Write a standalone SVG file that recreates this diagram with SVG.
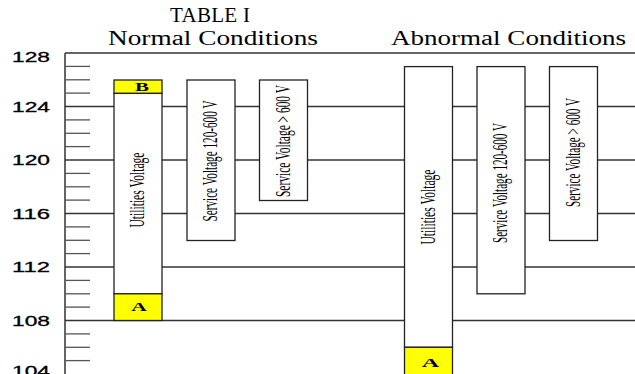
<svg xmlns="http://www.w3.org/2000/svg" width="635" height="374" viewBox="0 0 635 374">
<style>
.major{stroke:#333;stroke-width:1.3;fill:none}
.minor{stroke:#555;stroke-width:1.3;fill:none}
.axis{stroke:#111;stroke-width:1.3;fill:none}
.box{fill:#fff;stroke:#222;stroke-width:1.3}
.yel{fill:#ffff00;stroke:#222;stroke-width:1.3}
.lbl{font-family:"Liberation Serif","Times New Roman",serif;font-size:20px;fill:#000;text-anchor:middle}
.ab{font-family:"Liberation Serif","Times New Roman",serif;font-size:12px;font-weight:bold;fill:#000;text-anchor:middle}
.tick{font-family:"Liberation Sans",Arial,sans-serif;font-size:14.5px;fill:#000;stroke:#000;stroke-width:0.3}
.title{font-family:"Liberation Serif","Times New Roman",serif;fill:#000;text-anchor:middle}
</style>
<g id="titles">
<text class="title" x="210" y="22" font-size="21" textLength="80">TABLE I</text>
<text class="title" x="213" y="45" font-size="20" textLength="210" lengthAdjust="spacingAndGlyphs">Normal Conditions</text>
<text class="title" x="508.5" y="45" font-size="20" textLength="235" lengthAdjust="spacingAndGlyphs">Abnormal Conditions</text>
</g>
<g id="axis">
<line class="axis" x1="65" y1="53" x2="65" y2="374"/>
<g class="minor">
<line x1="65" y1="66.4" x2="90" y2="66.4"/>
<line x1="65" y1="79.8" x2="90" y2="79.8"/>
<line x1="65" y1="93.1" x2="90" y2="93.1"/>
<line x1="65" y1="119.9" x2="90" y2="119.9"/>
<line x1="65" y1="133.3" x2="90" y2="133.3"/>
<line x1="65" y1="146.6" x2="90" y2="146.6"/>
<line x1="65" y1="173.4" x2="90" y2="173.4"/>
<line x1="65" y1="186.8" x2="90" y2="186.8"/>
<line x1="65" y1="200.1" x2="90" y2="200.1"/>
<line x1="65" y1="226.9" x2="90" y2="226.9"/>
<line x1="65" y1="240.3" x2="90" y2="240.3"/>
<line x1="65" y1="253.6" x2="90" y2="253.6"/>
<line x1="65" y1="280.4" x2="90" y2="280.4"/>
<line x1="65" y1="293.8" x2="90" y2="293.8"/>
<line x1="65" y1="307.1" x2="90" y2="307.1"/>
<line x1="65" y1="333.9" x2="90" y2="333.9"/>
<line x1="65" y1="347.3" x2="90" y2="347.3"/>
<line x1="65" y1="360.6" x2="90" y2="360.6"/>
</g>
<text class="tick" x="12" y="61.5" textLength="38" lengthAdjust="spacingAndGlyphs">128</text>
<text class="tick" x="12" y="111.5" textLength="38" lengthAdjust="spacingAndGlyphs">124</text>
<text class="tick" x="12" y="165" textLength="38" lengthAdjust="spacingAndGlyphs">120</text>
<text class="tick" x="12" y="218.5" textLength="38" lengthAdjust="spacingAndGlyphs">116</text>
<text class="tick" x="12" y="272" textLength="38" lengthAdjust="spacingAndGlyphs">112</text>
<text class="tick" x="12" y="325.5" textLength="38" lengthAdjust="spacingAndGlyphs">108</text>
<text class="tick" x="12" y="375.5" textLength="38" lengthAdjust="spacingAndGlyphs">104</text>
</g>
<g id="connectors">
<line class="major" x1="65" y1="53" x2="635" y2="53"/>
<line class="major" x1="65" y1="106.5" x2="635" y2="106.5"/>
<line class="major" x1="65" y1="160" x2="635" y2="160"/>
<line class="major" x1="65" y1="213.5" x2="635" y2="213.5"/>
<line class="major" x1="65" y1="267" x2="635" y2="267"/>
<line class="major" x1="65" y1="320.5" x2="635" y2="320.5"/>
</g>
<g id="normal-utilities">
<rect class="yel" x="114" y="80" width="48" height="13.4"/>
<rect class="box" x="114" y="93.4" width="48" height="200.4"/>
<rect class="yel" x="114" y="293.8" width="48" height="26.7"/>
<text class="ab" x="142" y="91" font-size="11" textLength="14" lengthAdjust="spacingAndGlyphs">B</text>
<text class="ab" x="139" y="311" textLength="15.5" lengthAdjust="spacingAndGlyphs">A</text>
<text class="lbl" transform="translate(138,190) rotate(-90)" x="0" y="6" textLength="75" lengthAdjust="spacingAndGlyphs">Utilities Voltage</text>
</g>
<g id="normal-service-120-600">
<rect class="box" x="187" y="80" width="48" height="160.5"/>
<text class="lbl" transform="translate(211,161) rotate(-90)" x="0" y="6" textLength="121" lengthAdjust="spacingAndGlyphs">Service Voltage 120-600 V</text>
</g>
<g id="normal-service-600">
<rect class="box" x="259.5" y="80" width="48" height="120.5"/>
<text class="lbl" transform="translate(283.5,141) rotate(-90)" x="0" y="6" textLength="112" lengthAdjust="spacingAndGlyphs">Service Voltage &gt; 600 V</text>
</g>
<g id="abnormal-utilities">
<rect class="box" x="404.5" y="66.6" width="48" height="280.7"/>
<rect class="yel" x="404.5" y="347.3" width="48" height="30"/>
<text class="ab" x="430.5" y="366.5" textLength="17.5" lengthAdjust="spacingAndGlyphs">A</text>
<text class="lbl" transform="translate(428.5,207) rotate(-90)" x="0" y="6" textLength="75" lengthAdjust="spacingAndGlyphs">Utilities Voltage</text>
</g>
<g id="abnormal-service-120-600">
<rect class="box" x="477" y="66.6" width="48" height="227.2"/>
<text class="lbl" transform="translate(501,183) rotate(-90)" x="0" y="6" textLength="120" lengthAdjust="spacingAndGlyphs">Service Voltage 120-600 V</text>
</g>
<g id="abnormal-service-600">
<rect class="box" x="549.5" y="66.6" width="48" height="173.9"/>
<text class="lbl" transform="translate(573.5,152.5) rotate(-90)" x="0" y="6" textLength="109" lengthAdjust="spacingAndGlyphs">Service Voltage &gt; 600 V</text>
</g>
</svg>
